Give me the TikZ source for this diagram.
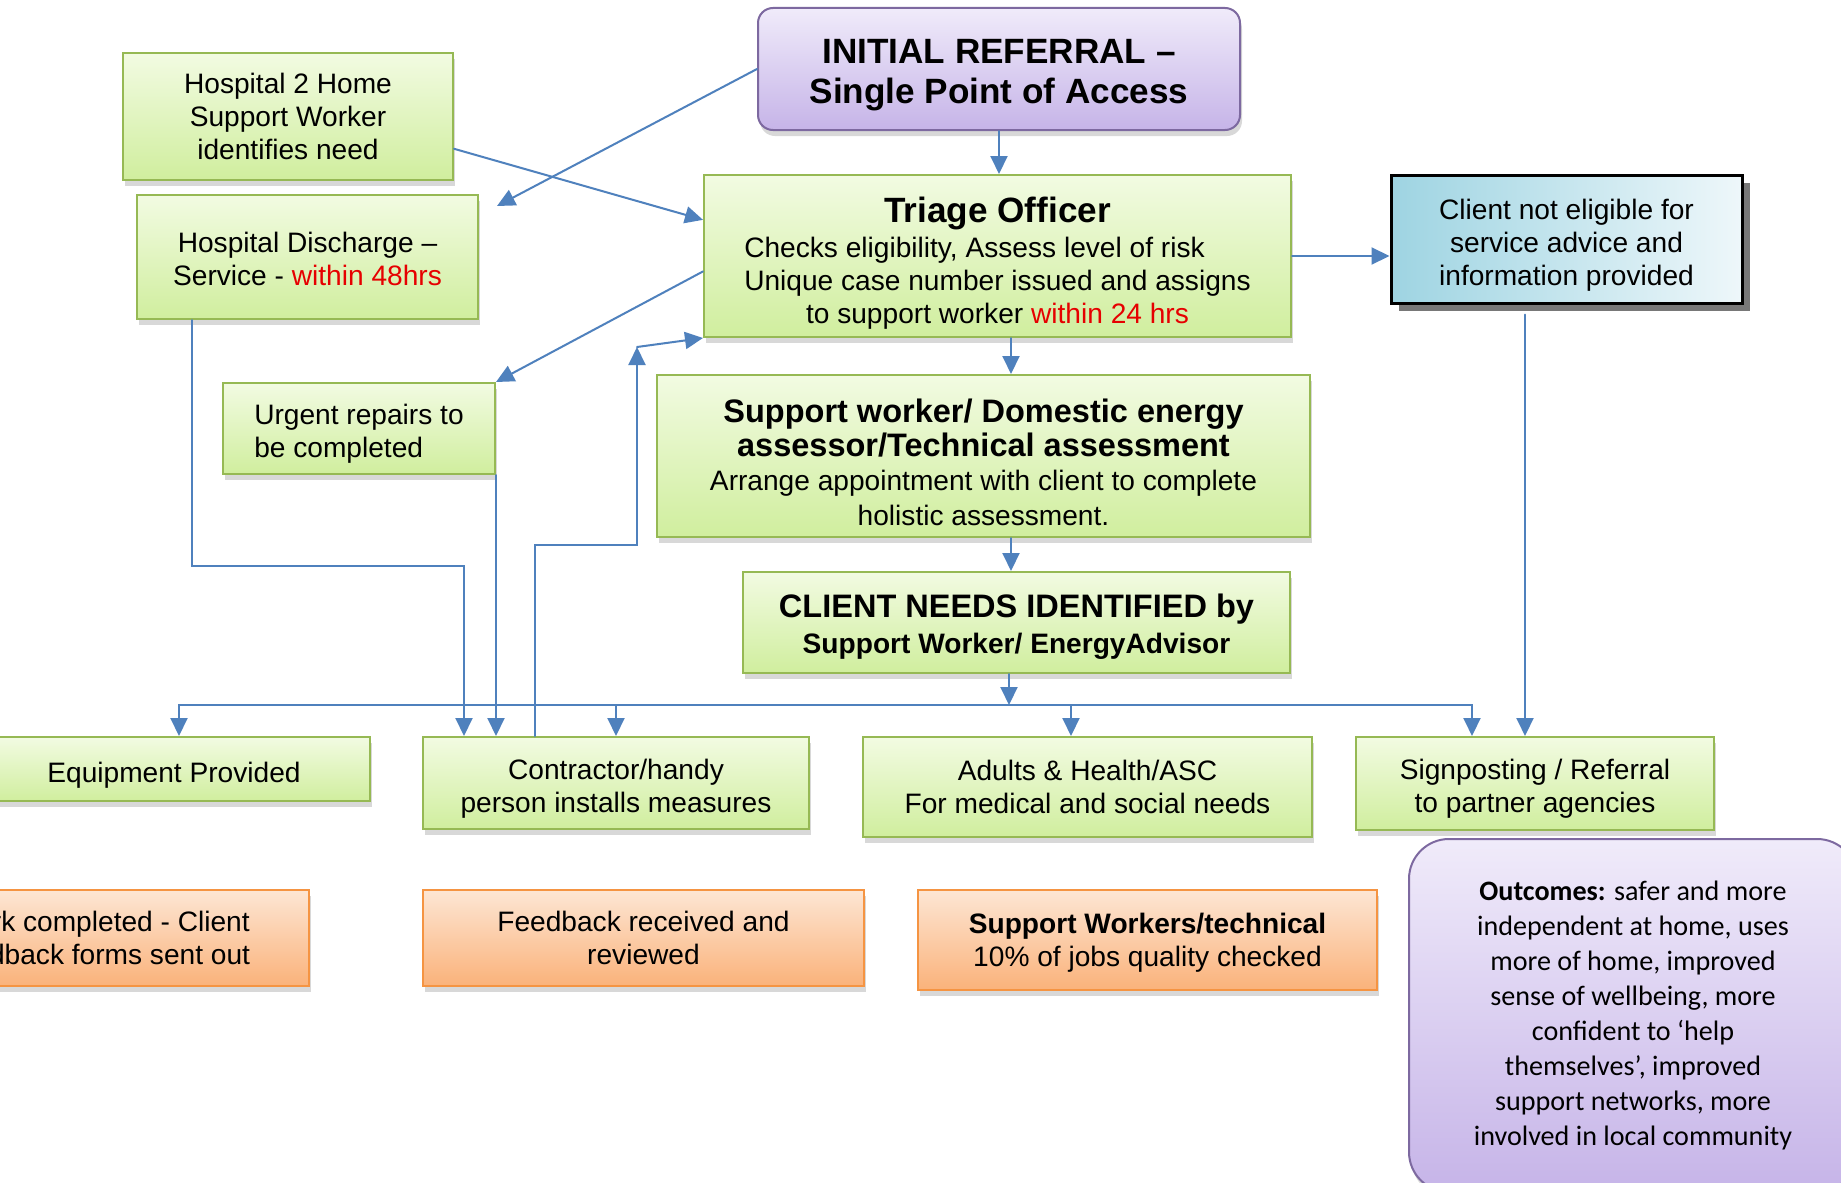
\documentclass[tikz,border=0pt]{standalone}
\usepackage{fontspec}
\setmainfont{Liberation Sans}
\newfontfamily\calibri{Carlito}
\usetikzlibrary{arrows.meta,shadows}

\definecolor{lvding}{RGB}{242,251,226}
\definecolor{lvdi}{RGB}{208,238,158}
\definecolor{lvbian}{RGB}{150,185,84}
\definecolor{chengding}{RGB}{253,230,212}
\definecolor{chengdi}{RGB}{250,178,122}
\definecolor{chengbian}{RGB}{245,148,66}
\definecolor{ziding}{RGB}{240,235,250}
\definecolor{zidi}{RGB}{198,180,232}
\definecolor{zibian}{RGB}{125,105,160}
\definecolor{lanzuo}{RGB}{158,212,226}
\definecolor{lanyou}{RGB}{238,247,250}
\definecolor{jianse}{RGB}{79,129,189}
\definecolor{hong}{RGB}{230,0,0}

\newcommand\dazi{\fontsize{20}{22.5}\selectfont\bfseries}
\newcommand\zhongzi{\fontsize{18.5}{20}\selectfont\bfseries}
\newcommand\kong[1]{\rule{0pt}{#1}}

\begin{document}
\begin{tikzpicture}[x=0.2mm,y=-0.2mm,line cap=round,>={Triangle[length=3.6mm,width=3.4mm]}]
	\tikzstyle{kuang}=[draw,line width=.4mm,align=center,inner sep=0pt,font=\fontsize{16}{18.8}\selectfont];
	\tikzstyle{lv}=[kuang,draw=lvbian,top color=lvding,bottom color=lvdi,drop shadow={opacity=.3,shadow xshift=.4mm,shadow yshift=-1.2mm}];
	\tikzstyle{cheng}=[kuang,draw=chengbian,top color=chengding,bottom color=chengdi,drop shadow={opacity=.3,shadow xshift=.4mm,shadow yshift=-1.2mm}];
	\tikzstyle{zi}=[kuang,draw=zibian,top color=ziding,bottom color=zidi,drop shadow={opacity=.3,shadow xshift=.4mm,shadow yshift=-1.2mm}];
	\tikzstyle{lan}=[kuang,draw=black,line width=.6mm,left color=lanzuo,right color=lanyou,drop shadow={opacity=.75,fill=black!70,shadow xshift=1.6mm,shadow yshift=-1.6mm}];
	\tikzstyle{jian}=[->,draw=jianse,line width=.4mm];
	%% page
	\useasboundingbox (0,0) rectangle (1841,1182);
	\clip (0,0) rectangle (1841,1182);
	\fill[white] (0,0) rectangle (1841,1182);
	%% top
	\node[zi,rounded corners=3mm,minimum width=96.4mm,minimum height=24.4mm,font=\dazi] (R) at (999,69) {\kong{20.5pt}INITIAL REFERRAL --\\Single Point of Access};
	\node[lv,minimum width=66mm,minimum height=25.4mm]   (H) at (288,116.5) {Hospital 2 Home\\Support Worker\\identifies need};
	\node[lv,minimum width=68.2mm,minimum height=24.8mm] (D) at (307.5,257) {\kong{13.5pt}Hospital Discharge --\\Service - {\color{hong}within 48hrs}};
	\node[lv,minimum width=117.4mm,minimum height=32.4mm] (T) at (997.5,256)
		{\dazi\kong{22.6pt}Triage Officer\\[1pt]Checks eligibility, Assess level of risk\rule{9.2mm}{0pt}\\Unique case number issued and assigns\\to support worker {\color{hong}within 24 hrs}};
	\node[lan,minimum width=70.2mm,minimum height=25.6mm] (N) at (1566.5,239) {\kong{18.5pt}Client not eligible for\\service advice and\\information provided};
	\node[lv,align=left,minimum width=54.4mm,minimum height=18.2mm] (U) at (359,428.5) {\kong{17.4pt}Urgent repairs to\\be completed};
	\node[lv,minimum width=130.6mm,minimum height=32.4mm,font=\fontsize{16}{19.5}\selectfont] (S) at (983.5,456)
		{\zhongzi\kong{20.3pt}Support worker/ Domestic energy\\\zhongzi assessor/Technical assessment\\Arrange appointment with client to complete\\holistic assessment.};
	\node[lv,minimum width=109.4mm,minimum height=20.2mm,font=\fontsize{16}{20}\selectfont] (C) at (1016.5,622.5)
		{\zhongzi\kong{18.1pt}CLIENT NEEDS IDENTIFIED by\\\bfseries Support Worker/ EnergyAdvisor};
	%% second row
	\node[lv,minimum width=78.4mm,minimum height=12.8mm] (E) at (174,769)    {\kong{18.5pt}Equipment Provided};
	\node[lv,minimum width=77.2mm,minimum height=18.4mm] (K) at (616,783)    {\kong{18.5pt}Contractor/handy\\person installs measures};
	\node[lv,minimum width=89.8mm,minimum height=20mm]   (A) at (1087.5,787) {Adults \& Health/ASC\\For medical and social needs};
	\node[lv,minimum width=71.6mm,minimum height=18.6mm] (P) at (1535,783.5) {\kong{17.4pt}Signposting / Referral\\to partner agencies};
	%% third row
	\node[cheng,minimum width=83.6mm,minimum height=19.2mm] (W) at (100,938)    {Work completed - Client\\feedback forms sent out};
	\node[cheng,minimum width=88.2mm,minimum height=19.2mm] (F) at (643.5,938)  {Feedback received and\\reviewed};
	\node[cheng,minimum width=91.8mm,minimum height=20mm]   (Q) at (1147.5,940) {\bfseries\kong{15.1pt}Support Workers/technical\\10\% of jobs quality checked};
	\node[zi,rounded corners=8mm,minimum width=89.6mm,minimum height=70.6mm,font=\calibri\fontsize{16}{19.9}\selectfont] (O) at (1633,1015.5)
		{\textbf{Outcomes:} safer and more\\independent at home, uses\\more of home, improved\\sense of wellbeing, more\\confident to ‘help\\themselves’, improved\\support networks, more\\involved in local community};
	%% arrows
	\coordinate (ret) at (637,347);
	\draw[jian] (R.south) -- (R.south |- T.north);
	\draw[jian] (R.west) -- ([shift={(18,12)}]D.north east);
	\draw[jian] (H.-11) -- (T.173);
	\draw[jian] (T.183) -- (U.north east);
	\draw[jian] (T.east) -- (T.east -| N.west);
	\draw[jian] ([xshift=2.7mm]T.south) -- ([xshift=2.7mm]T.south |- S.north);
	\draw[jian] ([xshift=-1.1mm]C.north |- S.south) -- ([xshift=-1.1mm]C.north);
	\draw[jian] ([xshift=-1.5mm]C.south) -- ++(0,31) coordinate (bus);
	\draw[jian] (bus) -| ([xshift=1mm]E.north);
	\draw[jian] (bus) -| ([xshift=-12.6mm]P.north);
	\draw[jian] (bus -| K.north) -- (K.north);
	\draw[jian] ([xshift=-3.3mm]A.north |- bus) -- ([xshift=-3.3mm]A.north);
	\draw[jian,shorten <=2mm] ([xshift=-8.3mm]N.south) -- ([xshift=-8.3mm]N.south |- P.north);
	\draw[jian] ([xshift=-23.1mm]D.south) -- ++(0,246) -| ([xshift=-30.4mm]K.north);
	\draw[jian] (U.south east) -- (U.south east |- K.north);
	\draw[jian] ([xshift=-16.2mm]K.north) -- ++(0,-191) -| (ret);
	\draw[jian] (ret) -- (T.south west);
\end{tikzpicture}
\end{document}
